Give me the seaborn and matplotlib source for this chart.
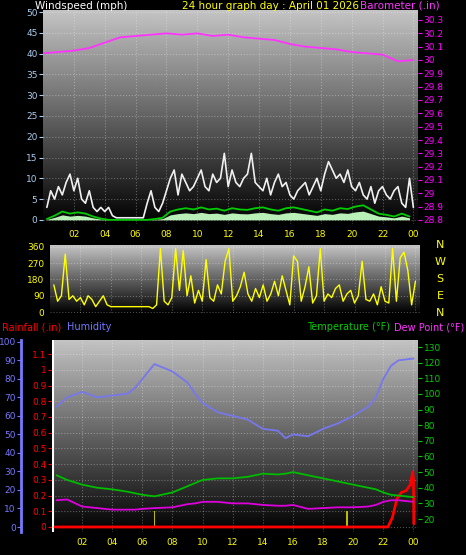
import matplotlib
matplotlib.use("Agg")
import matplotlib.pyplot as plt
import numpy as np
import seaborn as sns

sns.set_style("dark")
plt.rcParams['font.family'] = ['DejaVu Sans']

# ---- data ----
gust_hours = np.arange(0.25, 24.01, 0.25)
gust = [3, 7, 5, 8, 6, 9, 11, 7, 10, 5, 4, 7, 3, 2, 3, 2,
        3, 1, 0.5, 0.5, 0.5, 0.5, 0.5, 0.5, 0.5, 0.5, 4, 7, 3, 2, 4, 7,
        10, 12, 6, 11, 9, 7, 8, 10, 12, 8, 7, 11, 9, 10, 16, 8,
        12, 9, 8, 10, 11, 16, 9, 8, 7, 10, 6, 9, 11, 8, 9, 6,
        5, 7, 8, 9, 6, 8, 10, 7, 11, 14, 12, 10, 11, 9, 12, 8,
        7, 9, 6, 5, 8, 4, 7, 8, 6, 5, 7, 8, 4, 3, 10, 3]
avg_hours = np.arange(0.25, 24.01, 0.5)
avg_wind = [0.2, 1, 2, 1.5, 1.8, 1.5, 0.8, 0.3, 0, 0, 0, 0, 0, 0, 0.2, 0.5,
            2, 2.5, 2.8, 2.5, 3, 2.5, 2.7, 2.2, 2.8, 2.5, 2.4, 2.8, 3, 2.5, 2.2, 2.8,
            3, 2.6, 2.2, 1.8, 2.5, 2.2, 2.8, 2.6, 3.2, 3.5, 2.5, 1.5, 1.2, 0.8, 1.5, 0.8]
baro_hours = np.arange(0, 25, 1)
baro = [30.05, 30.06, 30.07, 30.09, 30.13, 30.17, 30.18, 30.19, 30.20, 30.19,
        30.20, 30.18, 30.19, 30.17, 30.16, 30.15, 30.12, 30.10, 30.09, 30.08,
        30.06, 30.05, 30.04, 29.99, 30.00]
dir_hours = np.arange(0.25, 24.01, 0.25)
wind_dir = [150, 60, 90, 320, 70, 90, 60, 80, 40, 90, 70, 30, 60, 90, 40, 30,
            30, 30, 30, 30, 30, 30, 30, 30, 30, 30, 20, 40, 350, 60, 40, 80,
            350, 120, 340, 90, 200, 50, 120, 60, 290, 80, 60, 150, 100, 280, 350, 60,
            90, 140, 220, 100, 60, 130, 80, 150, 60, 100, 170, 90, 200, 120, 40, 310,
            280, 60, 140, 250, 50, 90, 350, 60, 100, 80, 130, 150, 60, 100, 120, 50,
            90, 280, 70, 60, 100, 40, 140, 60, 50, 350, 60, 300, 330, 230, 40, 170]
met_hours = [0.3, 1, 2, 3, 4, 5, 5.5, 6, 6.8, 8, 9, 9.5, 10, 11, 12, 13, 14, 15,
             15.5, 16, 17, 18, 19, 20, 21, 21.5, 22, 22.5, 23, 24]
humidity = [65, 70, 73, 70, 71, 72, 75, 80, 88, 84, 78, 72, 67, 62, 60, 58, 53, 52,
            48, 50, 49, 53, 56, 60, 65, 70, 80, 87, 90, 91]
temp = [48, 45, 42, 40, 39, 37.5, 36.5, 35.5, 34.5, 37, 41, 43, 45, 46, 46, 47, 49,
        48.5, 49, 50, 48, 46, 44, 42, 40, 39, 37, 35.5, 35, 34]
dew = [32, 32.5, 28, 27, 26, 26, 26, 26.5, 27, 27.5, 29.5, 30, 31, 31, 30, 30, 29,
       28.5, 28.5, 29, 26.5, 27, 27.5, 27.5, 28, 29, 31, 32, 32, 31]
rain_hours = [0.2, 22.3, 22.6, 22.9, 23.2, 23.5, 23.8, 23.95, 24.0, 24.02]
rain = [0, 0, 0.06, 0.18, 0.22, 0.23, 0.27, 0.35, 0.3, 0.02]
rate_hours = [6.8, 19.6]
rate = [0.1, 0.1]

W, H = 466, 555
fig = plt.figure(figsize=(W / 100, H / 100), dpi=100, facecolor="black")


def px_axes(x0, y0, x1, y1):
    return fig.add_axes([x0 / W, 1 - y1 / H, (x1 - x0) / W, (y1 - y0) / H])


def style(ax):
    grad = np.linspace(0, 1, 256).reshape(-1, 1)
    ax.imshow(grad, extent=[0, 1, 0, 1], transform=ax.transAxes, cmap="gray",
              origin="lower", aspect="auto", zorder=0, vmin=0.0, vmax=1.3)
    ax.set_facecolor("black")
    ax.set_xlim(0, 24.3)
    ax.set_xticks(range(2, 25, 2))
    ax.set_xticklabels([f"{h % 24:02d}" for h in range(2, 25, 2)])
    ax.tick_params(axis="x", colors="yellow", labelsize=6.5, length=2, pad=2)
    ax.tick_params(axis="y", labelsize=6.5, length=3, pad=1)
    ax.grid(True, color="white", alpha=0.3, linestyle=":", linewidth=0.8)
    for s in ax.spines.values():
        s.set_visible(False)
    ax.set_xlabel("")
    ax.set_ylabel("")


# ---- panel 1: wind & barometer ----
ax1 = px_axes(43, 10, 418, 224)
style(ax1)
ax1.set_ylim(-1, 50.5)
ax1.set_yticks(range(0, 51, 5))
ax1.tick_params(axis="y", colors="#aaccee")
ax1.fill_between(avg_hours, 0, np.array(avg_wind) * 0.6, color="#b8f0b8", zorder=2,
                 linewidth=0)
sns.lineplot(x=gust_hours, y=gust, ax=ax1, color="#f0f0f0", linewidth=1.2, zorder=3)
sns.lineplot(x=avg_hours, y=avg_wind, ax=ax1, color="#00cc00", linewidth=1.3, zorder=4)
ax1.set_xlabel(""); ax1.set_ylabel("")
ax1b = ax1.twinx()
ax1b.set_ylim(28.77, 30.375)
bt = np.round(np.arange(28.8, 30.31, 0.1), 1)
ax1b.set_yticks(bt)
ax1b.set_yticklabels([f"{v:g}" for v in bt])
ax1b.tick_params(axis="y", colors="#ff00ff", labelsize=6.5, length=3, pad=1)
for s in ax1b.spines.values():
    s.set_visible(False)
sns.lineplot(x=baro_hours, y=baro, ax=ax1b, color="#ff33ff", linewidth=1.3)
ax1b.set_ylabel("")
fig.text(35 / W, 1 - 6 / H, "Windspeed (mph)", color="white", fontsize=7.5, va="center")
fig.text(270 / W, 1 - 6 / H, "24 hour graph day : April 01 2026", color="yellow",
         fontsize=7.5, va="center", ha="center")
fig.text(440 / W, 1 - 6 / H, "Barometer (.in)", color="#ff33ff", fontsize=7.5,
         va="center", ha="right")

# ---- panel 2: wind direction ----
ax2 = px_axes(50, 245, 420, 313)
style(ax2)
ax2.set_ylim(-5, 370)
ax2.set_yticks([0, 90, 180, 270, 360])
ax2.tick_params(axis="y", colors="yellow")
ax2.tick_params(axis="x", labelbottom=False, labeltop=False, length=0)
sns.lineplot(x=dir_hours, y=wind_dir, ax=ax2, color="#ffff00", linewidth=1.0)
ax2.set_xlabel(""); ax2.set_ylabel("")
for i, lab in enumerate(["N", "W", "S", "E", "N"]):
    fig.text(440 / W, 1 - (245 + i * 17) / H, lab, color="yellow", fontsize=8,
             ha="center", va="center")

# ---- panel 3: rain, humidity, temperature ----
ax3 = px_axes(52, 340, 418, 532)
style(ax3)
ax3.set_ylim(-0.032, 1.19)
rt = np.round(np.arange(0, 1.11, 0.1), 1)
ax3.set_yticks(rt)
ax3.set_yticklabels([f"{v:g}" for v in rt])
ax3.tick_params(axis="y", colors="red")
ax3.axvline(0.05, color="white", linewidth=1.5)
ax3.bar(rate_hours, rate, width=0.1, color="#bbbb00", edgecolor="none",
        linewidth=0, zorder=3)
sns.lineplot(x=rain_hours, y=rain, ax=ax3, color="red", linewidth=2, zorder=5)
ax3.set_xlabel(""); ax3.set_ylabel("")

axh = ax3.twinx()
axh.yaxis.tick_left()
axh.spines["left"].set_visible(True)
axh.spines["left"].set_position(("outward", 22))
axh.spines["left"].set_color("#7777ff")
axh.spines["left"].set_linewidth(2)
for k in ["top", "bottom", "right"]:
    axh.spines[k].set_visible(False)
axh.set_ylim(-2.7, 101)
axh.set_yticks(range(0, 101, 10))
axh.tick_params(axis="y", colors="#7777ff", labelsize=6.5, length=3, pad=1)
sns.lineplot(x=met_hours, y=humidity, ax=axh, color="#7777ee", linewidth=1.3)
axh.set_ylabel("")

axt = ax3.twinx()
for s in axt.spines.values():
    s.set_visible(False)
axt.set_ylim(11.7, 134.5)
axt.set_yticks(range(20, 131, 10))
axt.tick_params(axis="y", colors="#00cc00", labelsize=6.5, length=3, pad=1)
sns.lineplot(x=met_hours, y=temp, ax=axt, color="#00bb00", linewidth=1.3)
sns.lineplot(x=met_hours, y=dew, ax=axt, color="#dd00dd", linewidth=1.3)
axt.set_ylabel("")

fig.text(2 / W, 1 - 327 / H, "Rainfall (.in)", color="red", fontsize=7, va="center")
fig.text(67 / W, 1 - 327 / H, "Humidity", color="#7777ff", fontsize=7, va="center")
fig.text(390 / W, 1 - 327 / H, "Temperature (°F)", color="#00cc00", fontsize=7,
         va="center", ha="right")
fig.text(464 / W, 1 - 327 / H, "Dew Point (°F)", color="#ff33ff", fontsize=7,
         va="center", ha="right")

fig.savefig("out.png", dpi=100, facecolor="black")
